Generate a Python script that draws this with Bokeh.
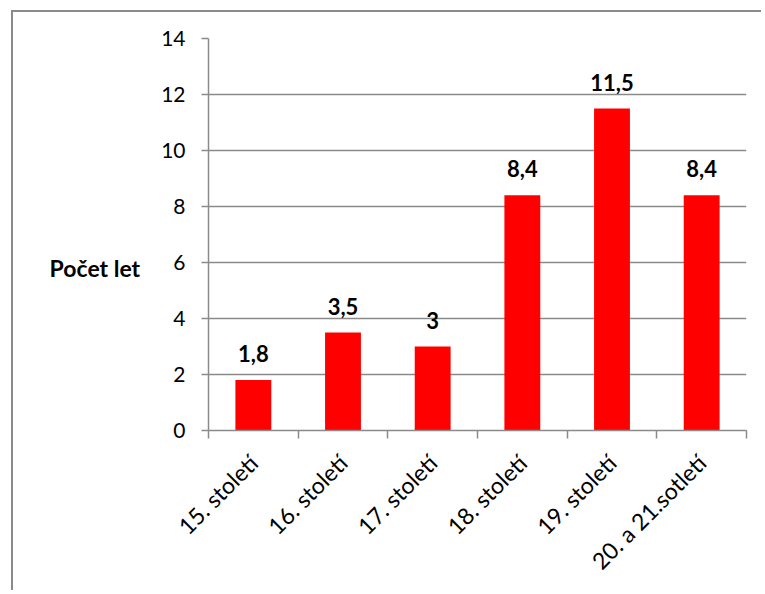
import numpy as np
from bokeh.plotting import figure
from bokeh.models import ColumnDataSource, FixedTicker, Range1d
from bokeh.core.properties import value
from bokeh.embed import file_html
from bokeh.resources import INLINE

categories = ["15. století", "16. století", "17. století", "18. století", "19. století", "20. a 21.sotletí"]
values = [1.8, 3.5, 3.0, 8.4, 11.5, 8.4]
value_labels = ["1,8", "3,5", "3", "8,4", "11,5", "8,4"]
y_ticks = [0, 2, 4, 6, 8, 10, 12, 14]
y_title = "Počet let"

FONT = "Lato"
GRAY = "#8a8a8a"

xs = np.arange(len(categories)) + 0.5
src = ColumnDataSource(dict(x=xs, top=values, lab=value_labels))

W, H = 750, 580
ox, oy = 13, 12  # canvas origin on page
fl, fr, ft, fb = 208, 746, 38, 430

p = figure(width=W, height=H, output_backend="svg", toolbar_location=None,
           x_range=Range1d(0, len(categories)), y_range=Range1d(0, 14),
           min_border_left=fl - ox, min_border_right=W - (fr - ox),
           min_border_top=ft - oy, min_border_bottom=H - (fb - oy))
p.styles = {"border-left": "2px solid #8a8a8a", "border-top": "2px solid #8a8a8a",
            "margin-left": "11px", "margin-top": "10px"}
p.outline_line_color = None
p.background_fill_color = "white"

p.vbar(x="x", top="top", width=0.4, source=src, fill_color="#ff0000", line_color=None)
p.text(x="x", y="top", text="lab", source=src, text_align="center", text_baseline="bottom",
       y_offset=-18, text_font_size="22px", text_font_style="bold", text_color="black",
       text_font=value(FONT))

p.xaxis.ticker = FixedTicker(ticks=list(xs), minor_ticks=list(range(len(categories) + 1)))
p.xaxis.major_label_overrides = {float(x): c for x, c in zip(xs, categories)}
p.xaxis.major_tick_line_color = None
p.xaxis.minor_tick_out = 8
p.xaxis.minor_tick_in = 0
p.xaxis.minor_tick_line_color = GRAY
p.xaxis.minor_tick_line_width = 1.5
p.xaxis.major_label_orientation = np.pi / 4
p.xaxis.major_label_text_font = FONT
p.xaxis.major_label_text_font_size = "23px"
p.xaxis.major_label_text_color = "black"
p.xaxis.major_label_standoff = 20

p.yaxis.ticker = FixedTicker(ticks=y_ticks, minor_ticks=[])
p.yaxis.major_tick_out = 7
p.yaxis.major_tick_in = 0
p.yaxis.major_tick_line_color = GRAY
p.yaxis.major_tick_line_width = 1.5
p.yaxis.major_label_text_font = FONT
p.yaxis.major_label_text_font_size = "21px"
p.yaxis.major_label_text_color = "black"
p.yaxis.major_label_standoff = 16
p.yaxis.axis_label = "\n\n" + y_title
p.yaxis.axis_label_orientation = "horizontal"
p.yaxis.axis_label_text_font = FONT
p.yaxis.axis_label_text_font_size = "23px"
p.yaxis.axis_label_text_font_style = "bold"
p.yaxis.axis_label_text_color = "black"
p.yaxis.axis_label_standoff = 18

for ax in (p.xaxis, p.yaxis):
    ax.axis_line_color = GRAY
    ax.axis_line_width = 1.5

p.xgrid.grid_line_color = None
p.ygrid.ticker = FixedTicker(ticks=y_ticks)
p.ygrid.grid_line_color = GRAY
p.ygrid.grid_line_width = 1.5

open("out.html", "w").write(file_html(p, INLINE))
